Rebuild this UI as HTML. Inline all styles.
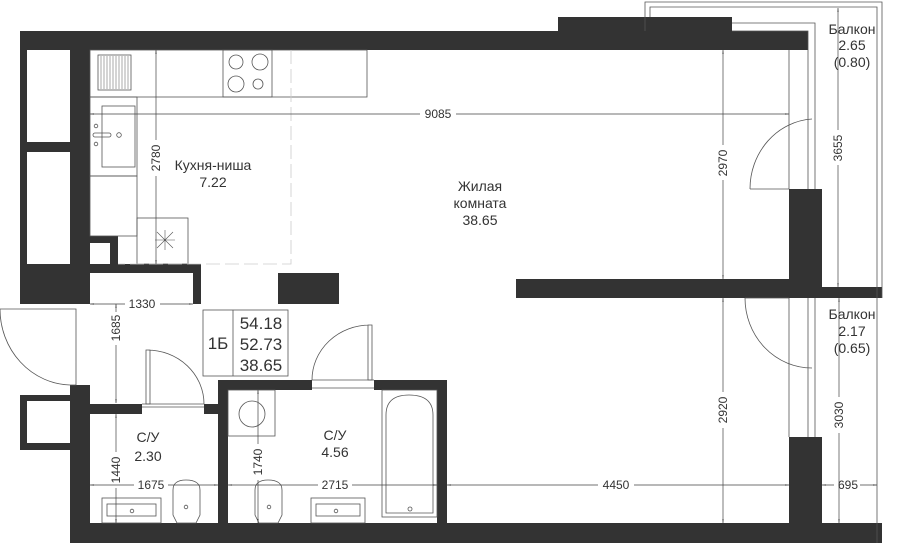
<!DOCTYPE html>
<html><head><meta charset="utf-8"><style>
html,body{margin:0;padding:0;background:#fff;}
svg{display:block}
text{font-family:"Liberation Sans",sans-serif;fill:#333}
.t{font-size:14px;text-anchor:middle}
.d{font-size:12px;text-anchor:middle}
.i{font-size:17px;text-anchor:middle}
</style></head><body>
<svg width="900" height="543" viewBox="0 0 900 543" xmlns="http://www.w3.org/2000/svg">
<defs>
<marker id="a" viewBox="0 0 10 10" refX="10" refY="5" markerWidth="6" markerHeight="6" orient="auto-start-reverse"><path d="M0,3.5L10,5L0,6.5z" fill="#333"/></marker>
</defs>
<g fill="#333">
<rect x="20" y="31" width="788" height="19"/>
<rect x="558" y="17" width="174" height="14"/>
<rect x="20" y="31" width="7" height="273"/>
<rect x="70" y="31" width="20" height="273"/>
<rect x="27" y="142" width="43" height="10"/>
<rect x="20" y="264" width="70" height="40"/>
<rect x="90" y="264" width="111" height="9"/>
<rect x="193" y="264" width="8" height="40"/>
<rect x="90" y="236" width="28" height="7"/>
<rect x="110" y="236" width="8" height="28"/>
<rect x="278" y="273" width="61" height="31"/>
<rect x="516" y="279" width="292" height="19"/>
<rect x="789" y="189" width="33" height="109"/>
<rect x="822" y="287" width="60" height="11"/>
<rect x="789" y="437" width="33" height="106"/>
<rect x="70" y="523" width="812" height="20"/>
<rect x="70" y="385" width="20" height="138"/>
<path d="M20,395H70V450H20z M27,401V443H70V401z" fill-rule="evenodd"/>
<rect x="70" y="385" width="20" height="10"/>
<rect x="90" y="404" width="52" height="10"/>
<rect x="204" y="404" width="14" height="10"/>
<rect x="218" y="380" width="10" height="143"/>
<rect x="218" y="380" width="94" height="10"/>
<rect x="374" y="380" width="73" height="10"/>
<rect x="437" y="380" width="10" height="143"/>
</g>
<g fill="none" stroke="#555" stroke-width="0.8">
<path d="M645,31V2H882V298"/>
<path d="M650,17V7H877V543"/>
<path d="M732,23H815V189 M732,31H808V189 M808,50V189"/>
<path d="M789,50V189 M808,298V437 M815,298V437 M789,298V437"/>
<rect x="90" y="50" width="277" height="47"/>
<rect x="223" y="50" width="49" height="47"/>
<circle cx="236" cy="62" r="7"/><circle cx="260" cy="62" r="8"/>
<circle cx="236" cy="84" r="8"/><circle cx="258" cy="84" r="5"/>
<rect x="98" y="55" width="33" height="35"/>
<path d="M101,56V89M104,56V89M107,56V89M110,56V89M113,56V89M116,56V89M119,56V89M122,56V89M125,56V89M128,56V89" stroke-width="0.5"/>
<rect x="90" y="97" width="47" height="79"/>
<rect x="102" y="106" width="33" height="61"/>
<circle cx="96" cy="126" r="1.8"/><circle cx="96" cy="144" r="1.8"/><circle cx="119" cy="135" r="2.3"/>
<rect x="93" y="133" width="18" height="4" rx="2"/>
<rect x="90" y="176" width="47" height="60"/>
<rect x="137" y="218" width="51" height="46"/>
<path d="M157,232L173,248M173,232L157,248M165,230V250M155,240H175" stroke-width="0.6"/>
<path d="M291,50V264H118" stroke="#ccc" stroke-dasharray="14,5"/>
<path d="M750,189H789 M750,189A66,70 0 0 1 812,119"/>
<path d="M745,298H789 M745,298A67,70 0 0 0 812,368"/>
<path d="M0,309H70 M70,309H76V385H70 M0,309A72,76 0 0 0 70,385"/>
<path d="M146,350H150V404H146z M147,350A57,54 0 0 1 204,404"/>
<path d="M142,404H204 M142,407H204"/>
<path d="M368,325H372V380H368z M370,325A58,55 0 0 0 312,380"/>
<path d="M312,380H374 M312,388H374"/>
<rect x="203" y="310" width="85" height="66"/>
<path d="M233,310V376"/>
<rect x="228" y="390" width="47" height="46"/>
<circle cx="252" cy="414" r="13"/>
<rect x="382" y="390" width="55" height="127"/>
<path d="M386,513V415Q386,395 409,395Q433,395 433,415V513Z"/>
<circle cx="410" cy="509" r="2"/>
<path d="M173,490Q173,480 186,480Q200,480 200,490V515L196,523H177L173,515Z"/>
<circle cx="186" cy="507" r="1.8"/>
<path d="M255,490Q255,480 268,480Q282,480 282,490V515L278,523H259L255,515Z"/>
<circle cx="269" cy="507" r="1.8"/>
<rect x="102" y="498" width="59" height="25"/>
<rect x="107" y="504" width="49" height="12"/>
<circle cx="132" cy="511" r="1.8"/>
<rect x="311" y="498" width="54" height="25"/>
<rect x="316" y="504" width="44" height="12"/>
<circle cx="336" cy="511" r="1.8"/>
</g>
<g stroke="#444" stroke-width="0.7" fill="none" marker-start="url(#a)" marker-end="url(#a)">
<path d="M90,114H420 M456,114H789"/>
<path d="M156,50V140 M156,176V264"/>
<path d="M723,50V145 M723,180V279"/>
<path d="M838,8V130 M838,165V287"/>
<path d="M90,304H125 M160,304H193"/>
<path d="M116,304V312 M116,345V403"/>
<path d="M116,414V452 M116,488V523"/>
<path d="M90,485H134 M168,485H218"/>
<path d="M228,485H318 M352,485H437"/>
<path d="M447,485H598 M634,485H789"/>
<path d="M822,485H834 M860,485H877"/>
<path d="M723,298V392 M723,428V523"/>
<path d="M839,298V397 M839,433V523"/>
<path d="M258,390V444 M258,480V523"/>
</g>
<g class="d">
<text x="438" y="118">9085</text>
<text x="142" y="308">1330</text>
<text x="151" y="489">1675</text>
<text x="335" y="489">2715</text>
<text x="616" y="489">4450</text>
<text x="848" y="489">695</text>
<text transform="translate(160,158) rotate(-90)">2780</text>
<text transform="translate(727,163) rotate(-90)">2970</text>
<text transform="translate(842,148) rotate(-90)">3655</text>
<text transform="translate(120,328) rotate(-90)">1685</text>
<text transform="translate(120,470) rotate(-90)">1440</text>
<text transform="translate(727,410) rotate(-90)">2920</text>
<text transform="translate(843,415) rotate(-90)">3030</text>
<text transform="translate(262,462) rotate(-90)">1740</text>
</g>
<g class="t">
<text x="213" y="170">Кухня-ниша</text>
<text x="213" y="187">7.22</text>
<text x="480" y="191">Жилая</text>
<text x="480" y="208">комната</text>
<text x="480" y="225">38.65</text>
<text x="148" y="442">С/У</text>
<text x="148" y="461">2.30</text>
<text x="335" y="440">С/У</text>
<text x="335" y="457">4.56</text>
<text x="852" y="34">Балкон</text>
<text x="852" y="50">2.65</text>
<text x="852" y="67">(0.80)</text>
<text x="852" y="319">Балкон</text>
<text x="852" y="336">2.17</text>
<text x="852" y="353">(0.65)</text>
</g>
<g class="i">
<text x="218" y="349">1Б</text>
<text x="261" y="329">54.18</text>
<text x="261" y="350">52.73</text>
<text x="261" y="371">38.65</text>
</g>
</svg>
</body></html>
